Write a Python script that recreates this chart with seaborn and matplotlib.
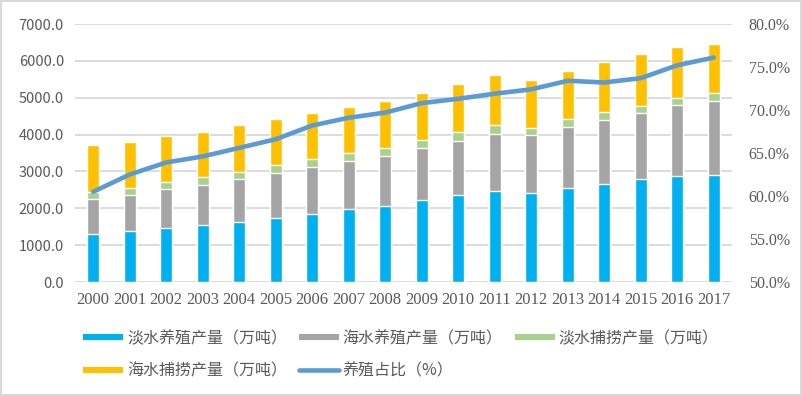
import numpy as np
import pandas as pd
import matplotlib
matplotlib.use("Agg")
import matplotlib.pyplot as plt
import seaborn as sns
from matplotlib.lines import Line2D
from matplotlib.patches import Rectangle

years = [str(y) for y in range(2000, 2018)]
fresh_aqua = [1295, 1376, 1458, 1540, 1621, 1730, 1838, 1974, 2056,
              2219, 2355, 2463, 2409, 2545, 2653, 2789, 2871, 2898]
sea_aqua = [951, 979, 1059, 1086, 1168, 1222, 1277, 1304, 1358,
            1412, 1467, 1549, 1576, 1657, 1739, 1793, 1929, 2010]
fresh_catch = [199, 199, 200, 218, 199, 218, 218, 218, 226,
               218, 244, 235, 199, 217, 217, 190, 199, 209]
sea_catch = [1268, 1240, 1240, 1222, 1268, 1249, 1249, 1249, 1268,
             1277, 1304, 1368, 1295, 1304, 1359, 1413, 1376, 1340]
ratio = [60.5, 62.5, 63.9, 64.6, 65.6, 66.6, 68.2, 69.1, 69.7,
         70.8, 71.3, 71.9, 72.4, 73.4, 73.2, 73.7, 75.2, 76.1]

labels = ["淡水养殖产量（万吨）", "海水养殖产量（万吨）", "淡水捕捞产量（万吨）",
          "海水捕捞产量（万吨）", "养殖占比（%）"]
colors = ["#00B0F0", "#A5A5A5", "#A9D18E", "#FFC000"]
line_color = "#5B9BD5"
text_color = "#595959"
grid_color = "#D9D9D9"

sns.set_theme(style="white")
plt.rcParams['font.family'] = ['Noto Sans CJK SC', 'DejaVu Sans']

df = pd.DataFrame({"year": years, "a": fresh_aqua, "b": sea_aqua,
                   "c": fresh_catch, "d": sea_catch, "r": ratio})
df["c1"] = df["a"]
df["c2"] = df["c1"] + df["b"]
df["c3"] = df["c2"] + df["c"]
df["c4"] = df["c3"] + df["d"]

fig = plt.figure(figsize=(8.03, 3.96), dpi=100)
ax = fig.add_axes([75/803, 1-282/396, 657/803, 258/396])

for col, c in zip(["c4", "c3", "c2", "c1"], colors[::-1]):
    sns.barplot(data=df, x="year", y=col, color=c, width=0.33, ax=ax,
                saturation=1, zorder=2)

ax.set_xlim(-0.5, 17.5)
ax.set_ylim(0, 7000)
ax.set_yticks(np.arange(0, 7001, 1000))
ax.set_yticklabels([f"{v:.1f}" for v in np.arange(0, 7001, 1000)],
                   color=text_color, fontsize=10.5,
                   family=['Noto Sans CJK SC'])
ax.set_xticks(range(len(years)))
ax.set_xticklabels(years, color=text_color, fontsize=12,
                   family=['Liberation Serif'])
ax.tick_params(axis='both', length=0)
ax.tick_params(axis='y', pad=8)
ax.tick_params(axis='x', pad=7)
ax.yaxis.grid(True, color=grid_color, linewidth=1.3, zorder=0)
ax.set_axisbelow(True)
for s in ax.spines.values():
    s.set_visible(False)
ax.set_xlabel("")
ax.set_ylabel("")

ax2 = ax.twinx()
sns.lineplot(x=np.arange(len(years)), y=df["r"], ax=ax2, color=line_color,
             linewidth=3.3, solid_capstyle='round', solid_joinstyle='round')
ax2.set_ylim(50, 80)
ax2.set_yticks(np.arange(50, 80.1, 5))
ax2.set_yticklabels([f"{v:.1f}%" for v in np.arange(50, 80.1, 5)],
                    color=text_color, fontsize=11.5,
                    family=['Liberation Serif'])
ax2.tick_params(axis='y', length=0, pad=12)
for s in ax2.spines.values():
    s.set_visible(False)
ax2.set_ylabel("")
ax2.set_xlim(-0.5, 17.5)

handles = [Line2D([], [], color=c, lw=4.4, solid_capstyle='butt') for c in colors]
handles.append(Line2D([], [], color=line_color, lw=3.3, solid_capstyle='round'))
order = [0, 3, 1, 4, 2]
leg = fig.legend([handles[i] for i in order], [labels[i] for i in order],
                 ncol=3, loc='upper left', bbox_to_anchor=(83/803, 1-330/396),
                 frameon=False, fontsize=11.5, handlelength=2.5,
                 handletextpad=0.25, columnspacing=0.75, labelspacing=0.95,
                 borderpad=0, borderaxespad=0,
                 prop={'family': ['Noto Sans CJK SC'], 'weight': 'light',
                       'size': 11.5})
for t in leg.get_texts():
    t.set_color(text_color)

fig.add_artist(Rectangle((0.001, 0.002), 0.997, 0.995, transform=fig.transFigure,
                         fill=False, edgecolor=grid_color, linewidth=1.5))

fig.savefig("out.png", dpi=100)
